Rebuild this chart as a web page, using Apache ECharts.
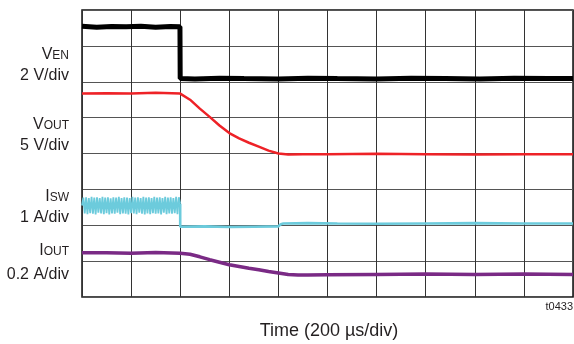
<!DOCTYPE html>
<html><head><meta charset="utf-8">
<script src="https://cdn.jsdelivr.net/npm/echarts@6/dist/echarts.min.js"></script>
<style>html,body{margin:0;padding:0;background:#fff}#c{width:574px;height:344px}</style>
</head><body><div id="c"></div>
<script>
// time in divisions (200 µs/div), values in screen divisions (0 = bottom, 8 = top)
const venT = [0,0.3,0.6,0.9,1.2,1.5,1.8,1.995,2.0,2.3,2.8,3.3,4,4.6,5.2,6,6.7,7.4,8.1,8.8,9.5,10];
const venV = [7.55,7.52,7.54,7.53,7.55,7.52,7.54,7.53,6.09,6.08,6.10,6.09,6.08,6.10,6.09,6.08,6.10,6.09,6.08,6.10,6.09,6.09];
const voutT = [0,0.5,1,1.5,2.0,2.2,2.4,2.6,2.8,3.0,3.2,3.4,3.6,3.8,4.0,4.2,4.5,5,6,7,8,9,10];
const voutV = [5.67,5.68,5.67,5.69,5.67,5.50,5.25,5.02,4.78,4.57,4.42,4.30,4.19,4.08,4.00,3.97,3.98,3.98,3.99,3.98,3.97,3.98,3.98];
// ISW switching ripple before the step (alternating peaks/valleys, evenly sampled over 0..2 div)
const iswRipple = [2.55,2.77,2.33,2.78,2.31,2.76,2.34,2.79,2.32,2.77,2.30,2.78,2.35,2.76,2.33,2.79,2.31,2.77,2.34,2.78,2.30,2.75,2.33,2.78,2.32,2.77,2.35,2.79,2.31,2.76,2.33,2.78,2.32,2.77,2.30,2.76,2.34,2.79,2.33,2.77,2.31,2.78,2.35,2.76,2.32,2.79,2.30,2.77,2.33,2.78,2.31,2.76,2.34,2.79,2.32,2.77,2.33,2.78,2.30,2.76,2.35,2.79,2.31,2.77,2.33,2.78,2.32,2.76,2.34,2.79,2.31,2.78,2.60];
const iswT = [2.0,2.5,3.0,3.5,4.0,4.05,4.1,4.6,5.2,6,7,8,9,10];
const iswV = [1.96,1.97,1.95,1.96,1.97,2.03,2.05,2.06,2.05,2.04,2.05,2.06,2.05,2.05];
const ioutT = [0,0.5,1,1.5,2.0,2.2,2.4,2.6,2.8,3.0,3.2,3.4,3.6,3.8,4.0,4.2,4.4,4.6,5,6,7,8,9,10];
const ioutV = [1.23,1.23,1.22,1.24,1.22,1.19,1.12,1.04,0.97,0.90,0.85,0.80,0.76,0.71,0.67,0.63,0.61,0.61,0.62,0.63,0.64,0.63,0.64,0.63];
// channel labels: [main letter, small-caps part, units]
const chanMain = ['V', 'V', 'I', 'I'];
const chanSub = ['EN', 'OUT', 'SW', 'OUT'];
const chanUnit = ['2 V/div', '5 V/div', '1 A/div', '0.2 A/div'];

const zip = (t, v) => t.map((x, i) => [x, v[i]]);
const rippleStep = 2 / (iswRipple.length - 1);
const rippleData = iswRipple.map((v, i) => [i * rippleStep, v]);
const iswData = [rippleData[rippleData.length - 1]].concat(zip(iswT, iswV));

const chart = echarts.init(document.getElementById('c'), null, {renderer: 'canvas'});
const F = '"Liberation Sans", Arial, sans-serif';
const C = '#231f20';
const ctx = document.createElement('canvas').getContext('2d');
ctx.font = '12px ' + F;
const nameY = [62, 132, 204, 258];
const unitY = [76, 146, 218, 275];
const labels = [];
chanMain.forEach((m, i) => {
  const w = ctx.measureText(chanSub[i]).width;
  labels.push({type: 'text', x: 69, y: nameY[i], style: {text: chanSub[i], font: '12px ' + F, fill: C, align: 'right', verticalAlign: 'bottom', textAlign: 'right', textVerticalAlign: 'bottom'}});
  labels.push({type: 'text', x: 69 - w, y: nameY[i] + 0.8, style: {text: m, font: '16px ' + F, fill: C, align: 'right', verticalAlign: 'bottom', textAlign: 'right', textVerticalAlign: 'bottom'}});
  labels.push({type: 'text', x: 69, y: unitY[i], style: {text: chanUnit[i], font: '16px ' + F, fill: C, align: 'right', verticalAlign: 'middle', textAlign: 'right', textVerticalAlign: 'middle'}});
});
chart.setOption({
  animation: false,
  grid: {left: 82, top: 10, width: 491, height: 287, show: true, borderColor: '#111', borderWidth: 1.5},
  xAxis: {type: 'value', min: 0, max: 10, interval: 1, axisLine: {show: false}, axisTick: {show: false}, axisLabel: {show: false}, splitLine: {show: true, lineStyle: {color: '#333', width: 1}}},
  yAxis: {type: 'value', min: 0, max: 8, interval: 1, axisLine: {show: false}, axisTick: {show: false}, axisLabel: {show: false}, splitLine: {show: true, lineStyle: {color: '#555', width: 1}}},
  series: [
    {type: 'line', data: zip(ioutT, ioutV), showSymbol: false, lineStyle: {color: '#7a2a85', width: 3.5}},
    {type: 'line', data: rippleData, showSymbol: false, lineStyle: {color: '#6ccbdc', width: 1.8}},
    {type: 'line', data: iswData, showSymbol: false, lineStyle: {color: '#6ccbdc', width: 2.6}},
    {type: 'line', data: zip(voutT, voutV), showSymbol: false, lineStyle: {color: '#ee2227', width: 2.5}},
    {type: 'line', data: zip(venT, venV), showSymbol: false, lineStyle: {color: '#000', width: 5}}
  ],
  graphic: labels.concat([
    {type: 'text', x: 573, y: 307, style: {text: 't0433', font: '11px ' + F, fill: C, align: 'right', verticalAlign: 'middle', textAlign: 'right', textVerticalAlign: 'middle'}},
    {type: 'text', x: 329, y: 331, style: {text: 'Time (200 \u00b5s/div)', font: '18px ' + F, fill: C, align: 'center', verticalAlign: 'middle', textAlign: 'center', textVerticalAlign: 'middle'}}
  ])
});
</script></body></html>
